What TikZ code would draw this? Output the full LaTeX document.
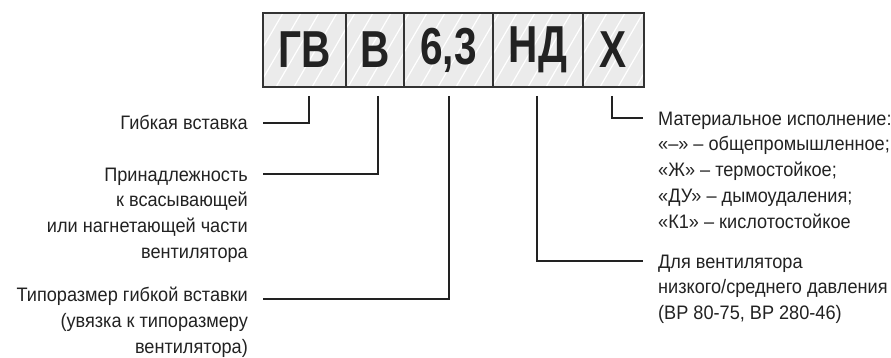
\documentclass[tikz,border=0pt]{standalone}
\usepackage{fontspec}
\setmainfont{Liberation Sans}[FakeStretch=0.93]
\newfontfamily\codefont{Liberation Sans}[FakeStretch=0.78]
\definecolor{ink}{HTML}{222222}
\definecolor{frame}{HTML}{333333}
\definecolor{cellgray}{HTML}{EBEBEB}

\begin{document}
\begin{tikzpicture}[x=1pt,y=-1pt,
  cell/.style={draw=frame,line width=1.5pt,minimum height=74pt,inner sep=0,
    font=\codefont\bfseries\fontsize{52}{52}\selectfont,text=ink},
  lbl/.style={inner sep=0,font=\fontsize{19.5}{25.9}\selectfont,text=ink},
  lead/.style={draw=ink,line width=1.8pt}]
\useasboundingbox (0,0) rectangle (891,358);

% code box
\fill[cellgray] (263,13) rectangle (644,87);
\begin{scope}
\clip (263,13) rectangle (644,87);
\foreach \s in {222,240,...,650}
  \draw[white,line width=1.2pt] (\s,87) -- ++(43,-74);
\end{scope}
\node[cell,minimum width=83pt] (GV) at (304.5,50) {ГВ};
\node[cell,minimum width=58pt] (B) at (375,50) {В};
\node[cell,minimum width=89pt] (S63) at (448.5,50) {6,3};
\node[cell,minimum width=90pt] (ND) at (538,50) {НД};
\node[cell,minimum width=61pt] (X) at (613.5,50) {Х};
\draw[frame,line width=2pt] (263,13) rectangle (644,87);

\coordinate (tGV) at (309,96);
\coordinate (tB) at (378,96);
\coordinate (t63) at (449,96);
\coordinate (tND) at (537,96);
\coordinate (tX) at (612,96);

% labels (placed by the baseline of their last line)
\node[lbl,anchor=base east,align=right] (lGV) at (248,130) {Гибкая вставка};
\node[lbl,anchor=base east,align=right] (lB) at (248,258.7) {Принадлежность\\к всасывающей\\или нагнетающей части\\вентилятора};
\node[lbl,anchor=base east,align=right] (l63) at (248,353.5) {Типоразмер гибкой вставки\\(увязка к типоразмеру\\вентилятора)};
\node[lbl,anchor=base west,align=left] (lX) at (658,228.6) {Материальное исполнение:\\«–» – общепромышленное;\\«Ж» – термостойкое;\\«ДУ» – дымоудаления;\\«К1» – кислотостойкое};
\node[lbl,anchor=base west,align=left] (lND) at (658,319.8) {Для вентилятора\\низкого/среднего давления\\(ВР 80-75, ВР 280-46)};

% leaders
\draw[lead] (tGV) |- ([xshift=15pt,yshift=7pt]lGV.base east);
\draw[lead] (tB) |- ([xshift=15pt,yshift=84.7pt]lB.base east);
\draw[lead] (t63) |- ([xshift=15pt,yshift=54.5pt]l63.base east);
\draw[lead] (tX) |- ([xshift=-15pt,yshift=110.6pt]lX.base west);
\draw[lead] (tND) |- ([xshift=-15pt,yshift=58.8pt]lND.base west);
\end{tikzpicture}
\end{document}
